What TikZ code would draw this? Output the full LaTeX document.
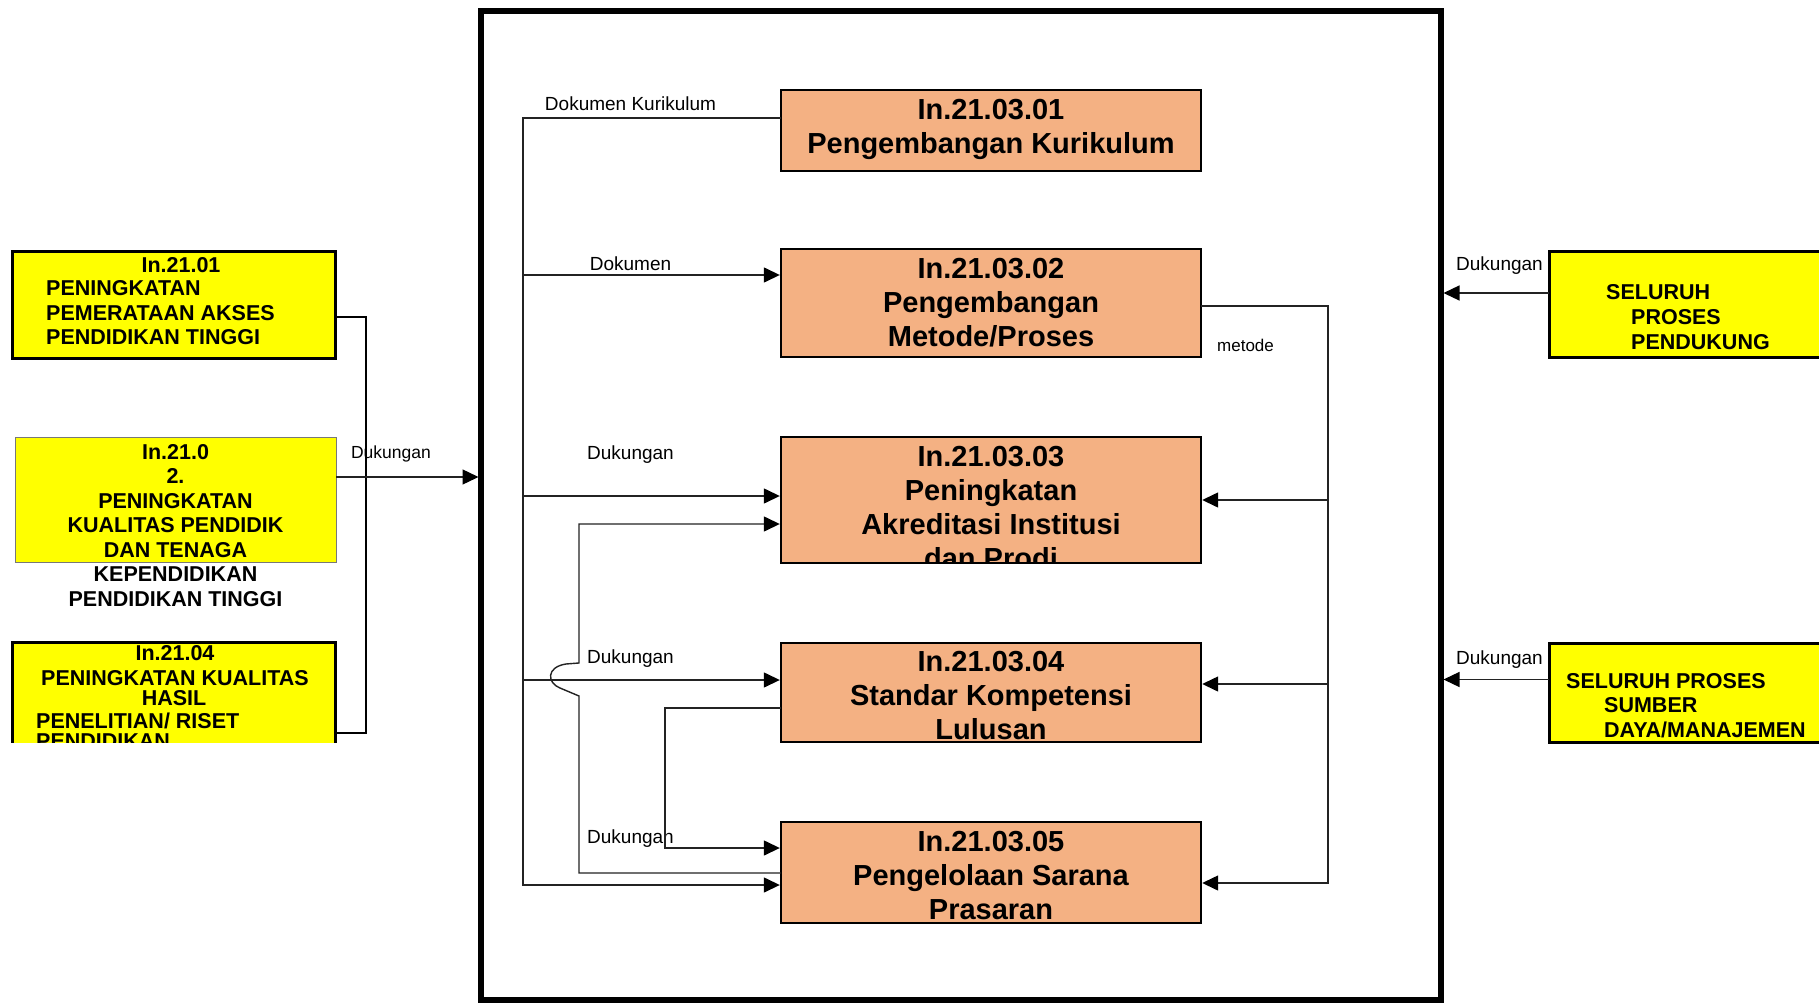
\documentclass[tikz,border=0pt]{standalone}
\usepackage{fontspec}
\setmainfont{Liberation Sans}
\usetikzlibrary{arrows.meta}

\definecolor{boxorange}{RGB}{244,177,131}
\definecolor{boxyellow}{RGB}{255,255,0}
\definecolor{linegray}{RGB}{35,35,35}
\definecolor{thinedge}{RGB}{120,120,120}

\tikzset{
  procbox/.style={draw=black, fill=boxorange, line width=2.5pt, anchor=north west,
    inner sep=0pt, outer sep=0pt, minimum width=420pt},
  proctext/.style={anchor=north, inner sep=0pt, align=center,
    font=\fontsize{29pt}{34pt}\selectfont\bfseries},
  inbox/.style={draw=black, fill=boxyellow, line width=3pt, anchor=north west,
    inner sep=0pt, outer sep=0pt},
  intext/.style={inner sep=0pt, font=\fontsize{21.5pt}{24.5pt}\selectfont\bfseries},
  flow/.style={draw=linegray, line width=1.4pt},
  arrowhd/.style={-{Triangle[length=16pt,width=15pt,black]}, shorten >=1.2pt},
  lbl/.style={inner sep=0pt, anchor=base, font=\fontsize{19pt}{22pt}\selectfont},
}

\begin{document}
\begin{tikzpicture}[x=1pt,y=-1pt]
\fill[white] (0,0) rectangle (1819,1003);
\useasboundingbox (0,0) rectangle (1819,1003);

% outer frame of the process group
\node[draw=black, line width=5.5pt, anchor=north west, inner sep=0pt, outer sep=0pt,
  minimum width=960pt, minimum height=989pt] (frame) at (481,11) {};

% ---------- process boxes ----------
\node[procbox, minimum height=81pt] (b1) at (781,90) {};
\begin{scope}
  \clip ([shift={(1.25pt,-1.25pt)}]b1.north west) rectangle ([shift={(-1.25pt,1.25pt)}]b1.south east);
  \node[proctext] (t1) at ([yshift=-9pt]b1.north) {In.21.03.01\\Pengembangan Kurikulum};
\end{scope}

\node[procbox, minimum height=108pt] (b2) at (781,249) {};
\begin{scope}
  \clip ([shift={(1.25pt,-1.25pt)}]b2.north west) rectangle ([shift={(-1.25pt,1.25pt)}]b2.south east);
  \node[proctext] (t2) at ([yshift=-9pt]b2.north) {In.21.03.02\\Pengembangan\\Metode/Proses};
\end{scope}

\node[procbox, minimum height=126pt] (b3) at (781,437) {};
\begin{scope}
  \clip ([shift={(1.25pt,-1.25pt)}]b3.north west) rectangle ([shift={(-1.25pt,1.25pt)}]b3.south east);
  \node[proctext] (t3) at ([yshift=-9pt]b3.north) {In.21.03.03\\Peningkatan\\Akreditasi Institusi\\dan Prodi};
\end{scope}

\node[procbox, minimum height=99pt] (b4) at (781,643) {};
\begin{scope}
  \clip ([shift={(1.25pt,-1.25pt)}]b4.north west) rectangle ([shift={(-1.25pt,1.25pt)}]b4.south east);
  \node[proctext] (t4) at ([yshift=-8pt]b4.north) {In.21.03.04\\Standar Kompetensi\\Lulusan};
\end{scope}

\node[procbox, minimum height=101pt] (b5) at (781,822) {};
\begin{scope}
  \clip ([shift={(1.25pt,-1.25pt)}]b5.north west) rectangle ([shift={(-1.25pt,1.25pt)}]b5.south east);
  \node[proctext] (t5) at ([yshift=-9pt]b5.north) {In.21.03.05\\Pengelolaan Sarana\\Prasaran};
\end{scope}

% ---------- input boxes on the left ----------
\node[inbox, minimum width=323pt, minimum height=107pt] (l1) at (12,251) {};
\node[intext, anchor=base] (l1a) at (181,272) {In.21.01};
\node[intext, anchor=north west, align=left] (l1b) at (46,280.3)
  {PENINGKATAN\\PEMERATAAN AKSES\\PENDIDIKAN TINGGI};

\node[inbox, draw=thinedge, line width=1pt, minimum width=321pt, minimum height=125pt] (l2) at (15,437) {};
\node[intext, anchor=north, align=center] (l2t) at (175.5,444)
  {In.21.0\\2.\\PENINGKATAN\\KUALITAS PENDIDIK\\DAN TENAGA\\KEPENDIDIKAN\\PENDIDIKAN TINGGI};

\begin{scope}
  \clip (0,0) rectangle (1819,742);
  \node[inbox, minimum width=323pt, minimum height=130pt] (l3) at (12,642) {};
  \node[intext, anchor=base] (l3a) at (175,660) {In.21.04};
  \node[intext, anchor=base] (l3b) at (175,685) {PENINGKATAN KUALITAS};
  \node[intext, anchor=base] (l3c) at (174,705) {HASIL};
  \node[intext, anchor=base west] (l3d) at (36,728.5) {PENELITIAN/ RISET};
  \node[intext, anchor=base west] (l3e) at (36,748) {PENDIDIKAN};
\end{scope}

% ---------- support boxes on the right ----------
\node[inbox, minimum width=300pt, minimum height=106pt] (r1) at (1549,251) {};
\node[intext, anchor=base west] (r1a) at (1606,299.7) {SELURUH};
\node[intext, anchor=north west, align=left] (r1b) at (1631,309.3) {PROSES\\PENDUKUNG};

\node[inbox, minimum width=300pt, minimum height=99pt] (r2) at (1549,643) {};
\node[intext, anchor=base west] (r2a) at (1566,688.7) {SELURUH PROSES};
\node[intext, anchor=north west, align=left] (r2b) at (1604,697.3) {SUMBER\\DAYA/MANAJEMEN};

% ---------- connectors: left inputs into the frame ----------
\coordinate (l1o) at ([yshift=-12.5pt]l1.east);
\coordinate (l3o) at ([yshift=-91pt]l3.north east);
\coordinate (lbar) at (366,317);
\draw[black, line width=2pt] (l1o) -| (l3o -| lbar) -- (l3o);
\coordinate (l2o) at ([yshift=22.5pt]l2.east);
\draw[flow, arrowhd, shorten >=2.5pt] (l2o) -- (l2o -| frame.west);
\node[lbl, font=\fontsize{17.5pt}{20pt}\selectfont] (lbl0) at (391,458.5) {Dukungan};

% ---------- connectors: right supports into the frame ----------
\coordinate (r1o) at ([yshift=11pt]r1.west);
\coordinate (r2o) at ([yshift=13pt]r2.west);
\draw[flow, arrowhd, shorten >=2.5pt] (r1o) -- (r1o -| frame.east);
\draw[flow, arrowhd, shorten >=2.5pt] (r2o) -- (r2o -| frame.east);
\node[lbl] (lblr1) at (1499.5,270) {Dukungan};
\node[lbl] (lblr2) at (1499.5,664) {Dukungan};

% ---------- trunk on the left of the process boxes ----------
\coordinate (trunk) at (523,118);
\coordinate (k1) at ([yshift=-28pt]b1.north west);
\coordinate (k2) at ([yshift=-26pt]b2.north west);
\coordinate (k3) at ([yshift=-59pt]b3.north west);
\coordinate (k4) at ([yshift=-37pt]b4.north west);
\coordinate (k5) at ([yshift=-63pt]b5.north west);
\draw[flow, arrowhd] (k1) -| (k5 -| trunk) -- (k5);
\draw[flow, arrowhd] (k2 -| trunk) -- (k2);
\draw[flow, arrowhd] (k3 -| trunk) -- (k3);
\draw[flow, arrowhd] (k4 -| trunk) -- (k4);

\node[lbl] (lblk1) at (630.5,110.8) {Dokumen Kurikulum};
\node[lbl] (lblk2) at (630.5,270) {Dokumen};
\node[lbl] (lblk3) at (630.5,459) {Dukungan};
\node[lbl] (lblk4) at (630.5,663) {Dukungan};
\node[lbl] (lblk5) at (630.5,843) {Dukungan};

% feedback from 21.03.05 back to 21.03.03, hopping over the 21.03.04 line
\coordinate (h5) at ([yshift=-51pt]b5.north west);
\coordinate (h3) at ([yshift=-87pt]b3.north west);
\draw[flow, arrowhd] (h5) -| (579,696) -- (560,688)
  .. controls (547,683) and (546,667) .. (566,664) -- (579,663) |- (h3);

% feedback from 21.03.04 to 21.03.05
\coordinate (h4) at ([yshift=-65pt]b4.north west);
\coordinate (h5b) at ([yshift=-26pt]b5.north west);
\draw[flow, arrowhd] (h4) -| (665,790) |- (h5b);

% ---------- method rail on the right of the process boxes ----------
\coordinate (rail) at (1328,306);
\coordinate (m2) at ([yshift=-57pt]b2.north east);
\coordinate (r3) at ([yshift=-63pt]b3.north east);
\coordinate (r4) at ([yshift=-41pt]b4.north east);
\coordinate (r5) at ([yshift=-61pt]b5.north east);
\draw[flow, arrowhd] (m2) -| (r5 -| rail) -- (r5);
\draw[flow, arrowhd] (r3 -| rail) -- (r3);
\draw[flow, arrowhd] (r4 -| rail) -- (r4);
\node[lbl, font=\fontsize{17pt}{20pt}\selectfont] (lblm) at (1245.5,351) {metode};

\end{tikzpicture}
\end{document}
